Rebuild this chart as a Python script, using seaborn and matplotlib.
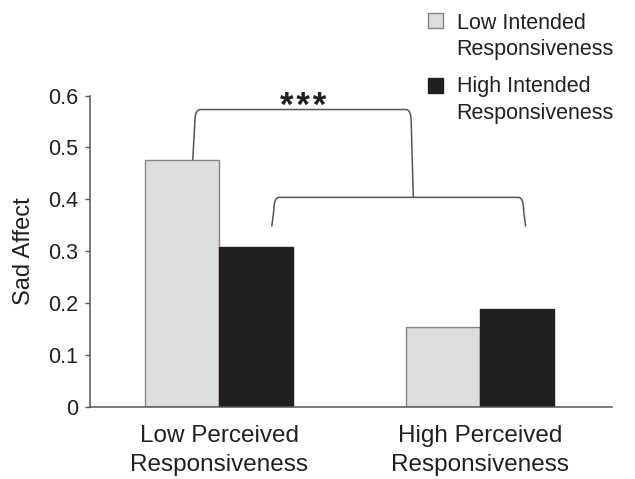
import matplotlib
matplotlib.use("Agg")
import matplotlib.pyplot as plt
import seaborn as sns
import pandas as pd
from matplotlib.path import Path
from matplotlib.patches import PathPatch, Rectangle

# ---- data ----
perceived = ["Low Perceived\nResponsiveness", "High Perceived\nResponsiveness"]
intended = ["Low Intended\nResponsiveness", "High Intended\nResponsiveness"]
low_intended_vals = [0.476, 0.155]
high_intended_vals = [0.308, 0.189]
y_ticks = [0, 0.1, 0.2, 0.3, 0.4, 0.5, 0.6]
y_tick_labels = ["0", "0.1", "0.2", "0.3", "0.4", "0.5", "0.6"]
sig_label = "*\u200a*\u200a*"
y_label = "Sad Affect"

LIGHT = "#dcdddf"
LIGHT_EDGE = "#858585"
DARK = "#231f20"
AXIS = "#555555"
TEXT = "#231f20"

df = pd.DataFrame({
    "perceived": perceived * 2,
    "intended": [intended[0]] * 2 + [intended[1]] * 2,
    "sad": low_intended_vals + high_intended_vals,
})

sns.set_theme(style="white")
plt.rcParams["font.family"] = ["Liberation Sans", "DejaVu Sans"]
plt.rcParams["text.color"] = TEXT

fig = plt.figure(figsize=(6.35, 4.79), dpi=100)
ax = fig.add_axes([0.1422, 0.1497, 0.8211, 0.6509])

sns.barplot(data=df, x="perceived", y="sad", hue="intended",
            order=perceived, hue_order=intended,
            palette=[LIGHT, DARK], width=0.568, legend=False,
            errorbar=None, saturation=1, ax=ax)

for patch in ax.patches:
    fc = patch.get_facecolor()
    if fc[0] > 0.5:
        patch.set_edgecolor(LIGHT_EDGE)
    else:
        patch.set_edgecolor(DARK)
    patch.set_linewidth(1.0)

ax.set_xlim(-0.495, 1.505)
ax.set_ylim(0, 0.6)
ax.set_yticks(y_ticks)
ax.set_yticklabels(y_tick_labels)
ax.set_xlabel("")
ax.set_ylabel(y_label, fontsize=17, va="center", color=TEXT)
ax.yaxis.set_label_coords(-0.128, 0.5)

for s in ["top", "right"]:
    ax.spines[s].set_visible(False)
for s in ["left", "bottom"]:
    ax.spines[s].set_color(AXIS)
    ax.spines[s].set_linewidth(1.1)

ax.tick_params(axis="y", length=3.5, width=1.0, color=AXIS, pad=5,
               labelsize=15.5, labelcolor=TEXT, left=True)
ax.tick_params(axis="x", length=0, pad=12.5, labelsize=17.5, labelcolor=TEXT)
for lbl in ax.get_xticklabels():
    lbl.set_linespacing(1.45)


def bracket(xl, xr, ybl, ybr, ytop, slant=0.007, rx=0.02, ry=0.025):
    verts = [
        (xl, ybl),
        (xl + slant, ytop - ry),
        (xl + slant, ytop),
        (xl + slant + rx, ytop),
        (xr - slant - rx, ytop),
        (xr - slant, ytop),
        (xr - slant, ytop - ry),
        (xr, ybr),
    ]
    codes = [Path.MOVETO, Path.LINETO, Path.CURVE3, Path.CURVE3,
             Path.LINETO, Path.CURVE3, Path.CURVE3, Path.LINETO]
    ax.add_patch(PathPatch(Path(verts, codes), fill=False, edgecolor=AXIS,
                           linewidth=1.1, clip_on=False, capstyle="butt"))


# upper bracket (from low-perceived light bar to lower bracket)
bracket(-0.102, 0.744, low_intended_vals[0], 0.404, 0.573, slant=0.008)
# lower bracket
bracket(0.201, 1.175, 0.3475, 0.3475, 0.404, slant=0.008)

ax.text(0.322, 0.561, sig_label, ha="center", va="baseline", fontsize=25,
        fontweight="bold", color=TEXT, clip_on=False)

# ---- legend (manual, top right) ----
W, H = 635.0, 479.0
legend_items = [
    (intended[0], LIGHT, LIGHT_EDGE, 13.0, 28.9),
    (intended[1], DARK, DARK, 78.0, 92.2),
]
for label, fc, ec, sq_top, base1 in legend_items:
    fig.patches.append(Rectangle((428 / W, 1 - (sq_top + 15) / H), 15 / W, 15 / H,
                                 facecolor=fc, edgecolor=ec, linewidth=1.0,
                                 transform=fig.transFigure, figure=fig))
    lines = label.split("\n")
    for i, line in enumerate(lines):
        fig.text(456.7 / W, 1 - (base1 + i * 26.3) / H, line, ha="left",
                 va="baseline", fontsize=15.5, color=TEXT)

fig.savefig("out.png", dpi=100)
